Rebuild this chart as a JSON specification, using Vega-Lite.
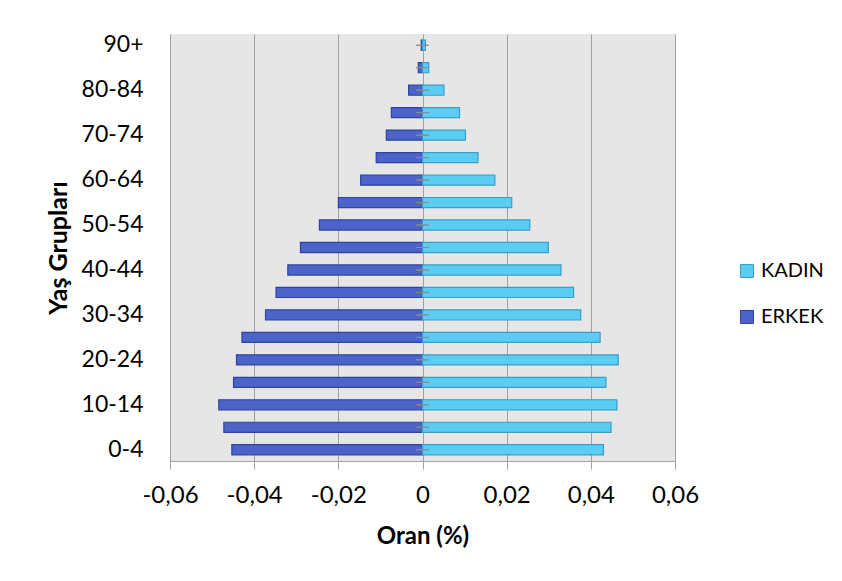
{
  "$schema": "https://vega.github.io/schema/vega-lite/v6.json",
  "width": 505,
  "height": 427,
  "autosize": {"type": "none"},
  "padding": {"left": 170, "top": 34, "right": 167, "bottom": 120},
  "background": "white",
  "config": {
    "font": "Lato",
    "view": {"fill": "#e6e6e6", "stroke": null}
  },
  "data": {
    "values": [
      {"age": "90+", "sex": "ERKEK", "value": -0.0003},
      {"age": "90+", "sex": "KADIN", "value": 0.0007},
      {"age": "85-89", "sex": "ERKEK", "value": -0.001},
      {"age": "85-89", "sex": "KADIN", "value": 0.0015},
      {"age": "80-84", "sex": "ERKEK", "value": -0.0033},
      {"age": "80-84", "sex": "KADIN", "value": 0.0051},
      {"age": "75-79", "sex": "ERKEK", "value": -0.0074},
      {"age": "75-79", "sex": "KADIN", "value": 0.0088},
      {"age": "70-74", "sex": "ERKEK", "value": -0.0086},
      {"age": "70-74", "sex": "KADIN", "value": 0.0102},
      {"age": "65-69", "sex": "ERKEK", "value": -0.011},
      {"age": "65-69", "sex": "KADIN", "value": 0.0132},
      {"age": "60-64", "sex": "ERKEK", "value": -0.0147},
      {"age": "60-64", "sex": "KADIN", "value": 0.0172},
      {"age": "55-59", "sex": "ERKEK", "value": -0.02},
      {"age": "55-59", "sex": "KADIN", "value": 0.0212},
      {"age": "50-54", "sex": "ERKEK", "value": -0.0245},
      {"age": "50-54", "sex": "KADIN", "value": 0.0255},
      {"age": "45-49", "sex": "ERKEK", "value": -0.029},
      {"age": "45-49", "sex": "KADIN", "value": 0.0299},
      {"age": "40-44", "sex": "ERKEK", "value": -0.032},
      {"age": "40-44", "sex": "KADIN", "value": 0.0329},
      {"age": "35-39", "sex": "ERKEK", "value": -0.0348},
      {"age": "35-39", "sex": "KADIN", "value": 0.0359},
      {"age": "30-34", "sex": "ERKEK", "value": -0.0373},
      {"age": "30-34", "sex": "KADIN", "value": 0.0376},
      {"age": "25-29", "sex": "ERKEK", "value": -0.0429},
      {"age": "25-29", "sex": "KADIN", "value": 0.0422},
      {"age": "20-24", "sex": "ERKEK", "value": -0.0442},
      {"age": "20-24", "sex": "KADIN", "value": 0.0465},
      {"age": "15-19", "sex": "ERKEK", "value": -0.0449},
      {"age": "15-19", "sex": "KADIN", "value": 0.0436},
      {"age": "10-14", "sex": "ERKEK", "value": -0.0484},
      {"age": "10-14", "sex": "KADIN", "value": 0.0462},
      {"age": "5-9", "sex": "ERKEK", "value": -0.0472},
      {"age": "5-9", "sex": "KADIN", "value": 0.0448},
      {"age": "0-4", "sex": "ERKEK", "value": -0.0453},
      {"age": "0-4", "sex": "KADIN", "value": 0.043}
    ]
  },
  "encoding": {
    "y": {
      "field": "age",
      "type": "ordinal",
      "sort": ["90+", "85-89", "80-84", "75-79", "70-74", "65-69", "60-64", "55-59", "50-54", "45-49", "40-44", "35-39", "30-34", "25-29", "20-24", "15-19", "10-14", "5-9", "0-4"],
      "scale": {"paddingInner": 0.55, "paddingOuter": 0.275},
      "axis": {
        "title": "Yaş Grupları",
        "values": ["90+", "80-84", "70-74", "60-64", "50-54", "40-44", "30-34", "20-24", "10-14", "0-4"],
        "ticks": false,
        "domain": false,
        "grid": false,
        "labelFontSize": 23,
        "labelColor": "#000000",
        "labelPadding": 27,
        "labelOverlap": false,
        "titleFontSize": 25,
        "titleFontWeight": "bold",
        "titleColor": "#000000",
        "titlePadding": 10
      }
    }
  },
  "layer": [
    {
      "mark": {"type": "bar", "strokeWidth": 1.2},
      "encoding": {
        "x": {
          "field": "value",
          "type": "quantitative",
          "scale": {"domain": [-0.06, 0.06], "nice": false, "zero": false},
          "axis": {
            "title": "Oran (%)",
            "values": [-0.06, -0.04, -0.02, 0, 0.02, 0.04, 0.06],
            "labelExpr": "datum.value == 0 ? '0' : replace(replace(format(datum.value, '.2f'), '.', ','), '\u2212', '-')",
            "labelOverlap": false,
            "labelBound": false,
            "labelFlush": false,
            "grid": true,
            "gridColor": "#a0a0a0",
            "gridOpacity": 1,
            "domainColor": "#a0a0a0",
            "tickColor": "#a0a0a0",
            "tickSize": 8,
            "labelFontSize": 24,
            "labelColor": "#000000",
            "labelPadding": 14,
            "titleFontSize": 24,
            "titleFontWeight": "bold",
            "titleColor": "#000000",
            "titlePadding": 17
          }
        },
        "color": {
          "field": "sex",
          "type": "nominal",
          "scale": {"domain": ["KADIN", "ERKEK"], "range": ["#5bcdf3", "#4c63c9"]},
          "legend": {
            "title": null,
            "orient": "none",
            "legendX": 567,
            "legendY": 227,
            "padding": 0,
            "symbolType": "square",
            "symbolSize": 169,
            "symbolStrokeWidth": 1,
            "labelFontSize": 20,
            "labelColor": "#000000",
            "rowPadding": 26,
            "labelOffset": 4
          }
        },
        "stroke": {
          "field": "sex",
          "type": "nominal",
          "scale": {"domain": ["KADIN", "ERKEK"], "range": ["#3a9ec8", "#2e449e"]},
          "legend": null
        }
      }
    },
    {
      "mark": {"type": "rule", "color": "#8c8c8c", "strokeWidth": 1},
      "encoding": {"x": {"datum": 0}}
    },
    {
      "mark": {"type": "rule", "color": "#8c8c8c", "strokeWidth": 1},
      "encoding": {"x": {"datum": -0.0015}, "x2": {"datum": 0.0015}}
    }
  ]
}
